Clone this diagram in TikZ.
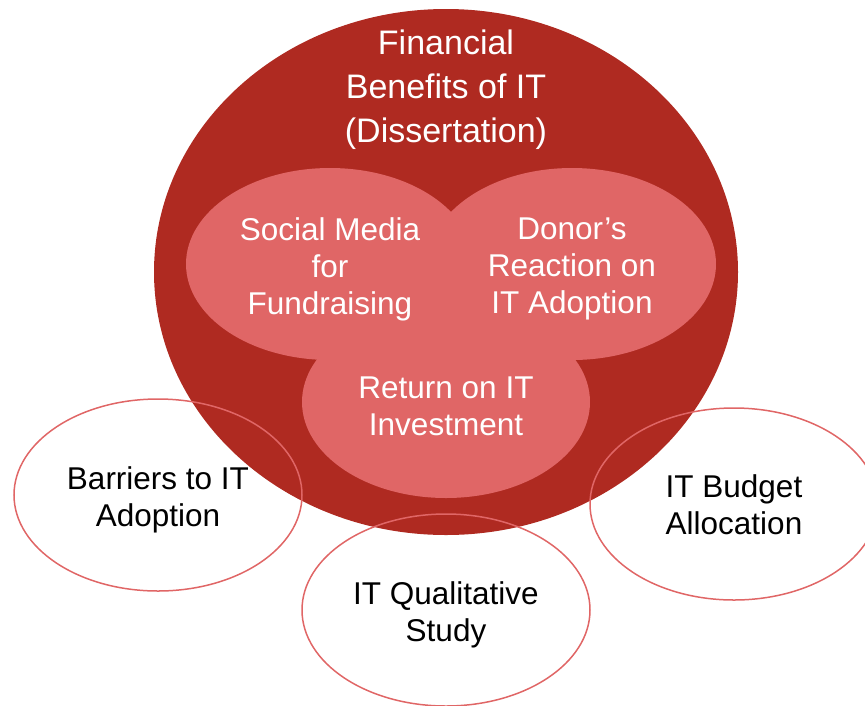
\documentclass[tikz,border=0pt]{standalone}
\usepackage{fontspec}
\setmainfont{Liberation Sans}
\usetikzlibrary{shapes.geometric}
\definecolor{darkberry}{HTML}{AF2A21}
\definecolor{lightberry}{HTML}{E06666}

\begin{document}
\begin{tikzpicture}[x=1pt,y=-1pt,
    topic/.style={ellipse,fill=lightberry,minimum width=288pt,minimum height=192pt,inner sep=0pt},
    topictext/.style={text=white,align=center,font=\fontsize{31.5}{37}\selectfont},
    satellite/.style={ellipse,draw=lightberry,line width=1.5pt,minimum width=288pt,
      minimum height=192pt,inner sep=0pt,align=center,font=\fontsize{31.5}{37}\selectfont}]
        \path[use as bounding box,clip] (0,0) rectangle (865,705);
        \fill[darkberry] (446,272) ellipse [x radius=292,y radius=263];
        \node[text=white,align=center,font=\fontsize{34}{44}\selectfont] (benefits) at (446,90)
          {Financial\\Benefits of IT\\(Dissertation)};
        \node[topic] (social) at (330,264) {};
        \node[topic] (donor) at (572,264) {};
        \node[topic] (roi) at (446,402) {};
        \node[topictext] at ([yshift=-5pt]social) {Social Media\\for\\Fundraising};
        \node[topictext] at ([yshift=-5pt]donor) {Donor’s\\Reaction on\\IT Adoption};
        \node[topictext] at ([yshift=-4pt]roi) {Return on IT\\Investment};
        \node[satellite] (barriers) at (158,495) {};
        \node[satellite] (qualitative) at (446,610) {};
        \node[satellite] (budget) at (734,504) {};
        \node[topictext,text=black] at ([yshift=-5pt]barriers) {Barriers to IT\\Adoption};
        \node[topictext,text=black] at ([yshift=-5pt]qualitative) {IT Qualitative\\Study};
        \node[topictext,text=black] at ([yshift=-1pt]budget) {IT Budget\\Allocation};
\end{tikzpicture}
\end{document}
